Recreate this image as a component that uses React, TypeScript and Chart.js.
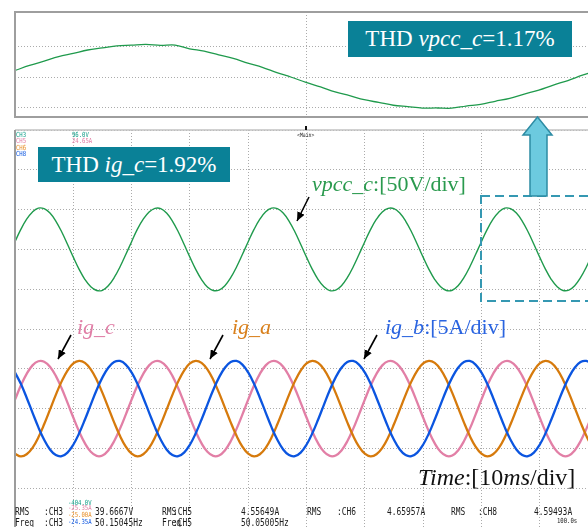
import React, { useEffect, useRef } from "react";
import { Chart, registerables } from "chart.js";
Chart.register(...registerables);

// ---------- data (main panel, 10 ms/div) ----------
const timeMs = [
  0, 1, 2, 3, 4, 5, 6, 7, 8, 9, 10, 11, 12, 13, 14, 15, 16, 17, 18, 19,
  20, 21, 22, 23, 24, 25, 26, 27, 28, 29, 30, 31, 32, 33, 34, 35, 36, 37, 38, 39,
  40, 41, 42, 43, 44, 45, 46, 47, 48, 49, 50, 51, 52, 53, 54, 55, 56, 57, 58, 59,
  60, 61, 62, 63, 64, 65, 66, 67, 68, 69, 70, 71, 72, 73, 74, 75, 76, 77, 78, 79,
  80, 81, 82, 83, 84, 85, 86, 87, 88, 89, 90, 91, 92, 93, 94, 95, 96, 97, 98, 99, 100,
];

// vpcc_c [V]
const vpccC = [
  9.7, 25.1, 37.9, 47.0, 51.9, 51.1, 45.6, 35.6, 22.1, 6.5, -9.7, -25.1, -37.9, -47.0, -51.6, -51.4, -45.6, -35.6, -22.1, -6.5,
  9.7, 25.4, 37.9, 47.0, 51.6, 51.3, 45.6, 35.6, 22.1, 6.5, -9.7, -25.1, -37.9, -47.3, -51.6, -51.1, -45.6, -35.6, -22.1, -6.5,
  9.7, 25.1, 37.9, 47.2, 51.8, 51.1, 45.6, 35.6, 22.1, 6.5, -9.7, -25.1, -37.9, -47.0, -51.7, -51.1, -45.6, -35.6, -22.1, -6.5,
  9.7, 25.1, 37.9, 47.0, 51.6, 51.2, 45.6, 35.6, 22.1, 6.5, -9.7, -25.1, -37.9, -47.0, -51.6, -51.3, -45.6, -35.6, -22.1, -6.5,
  9.7, 25.1, 37.9, 47.0, 51.9, 51.1, 45.6, 35.6, 22.1, 6.5, -9.7, -25.1, -37.9, -47.0, -51.6, -51.1, -45.6, -35.6, -22.1, -6.5,
  9.7,
];

// ig_a [A]
const igA = [
  -5.67, -6.0, -5.74, -4.93, -3.63, -1.97, -0.13, 1.73, 3.42, 4.78, 5.67, 6.0, 5.74, 4.93, 3.63, 1.97, 0.13, -1.73, -3.42, -4.78,
  -5.67, -6.0, -5.74, -4.93, -3.63, -1.97, -0.13, 1.73, 3.42, 4.78, 5.67, 6.0, 5.74, 4.93, 3.63, 1.97, 0.13, -1.73, -3.42, -4.78,
  -5.67, -6.0, -5.74, -4.93, -3.63, -1.97, -0.13, 1.73, 3.42, 4.78, 5.67, 6.0, 5.74, 4.93, 3.63, 1.97, 0.13, -1.73, -3.42, -4.78,
  -5.67, -6.0, -5.74, -4.93, -3.63, -1.97, -0.13, 1.73, 3.42, 4.78, 5.67, 6.0, 5.74, 4.93, 3.63, 1.97, 0.13, -1.73, -3.42, -4.78,
  -5.67, -6.0, -5.74, -4.93, -3.63, -1.97, -0.13, 1.73, 3.42, 4.78, 5.67, 6.0, 5.74, 4.93, 3.63, 1.97, 0.13, -1.73, -3.42, -4.78,
  -5.67,
];

// ig_b [A]
const igB = [
  4.54, 3.11, 1.37, -0.5, -2.33, -3.92, -5.13, -5.84, -5.98, -5.53, -4.54, -3.11, -1.37, 0.5, 2.33, 3.92, 5.13, 5.84, 5.98, 5.53,
  4.54, 3.11, 1.37, -0.5, -2.33, -3.92, -5.13, -5.84, -5.98, -5.53, -4.54, -3.11, -1.37, 0.5, 2.33, 3.92, 5.13, 5.84, 5.98, 5.53,
  4.54, 3.11, 1.37, -0.5, -2.33, -3.92, -5.13, -5.84, -5.98, -5.53, -4.54, -3.11, -1.37, 0.5, 2.33, 3.92, 5.13, 5.84, 5.98, 5.53,
  4.54, 3.11, 1.37, -0.5, -2.33, -3.92, -5.13, -5.84, -5.98, -5.53, -4.54, -3.11, -1.37, 0.5, 2.33, 3.92, 5.13, 5.84, 5.98, 5.53,
  4.54, 3.11, 1.37, -0.5, -2.33, -3.92, -5.13, -5.84, -5.98, -5.53, -4.54, -3.11, -1.37, 0.5, 2.33, 3.92, 5.13, 5.84, 5.98, 5.53,
  4.54,
];

// ig_c [A]
const igC = [
  1.12, 2.89, 4.37, 5.43, 5.95, 5.89, 5.26, 4.11, 2.55, 0.75, -1.12, -2.89, -4.37, -5.43, -5.95, -5.89, -5.26, -4.11, -2.55, -0.75,
  1.12, 2.89, 4.37, 5.43, 5.95, 5.89, 5.26, 4.11, 2.55, 0.75, -1.12, -2.89, -4.37, -5.43, -5.95, -5.89, -5.26, -4.11, -2.55, -0.75,
  1.12, 2.89, 4.37, 5.43, 5.95, 5.89, 5.26, 4.11, 2.55, 0.75, -1.12, -2.89, -4.37, -5.43, -5.95, -5.89, -5.26, -4.11, -2.55, -0.75,
  1.12, 2.89, 4.37, 5.43, 5.95, 5.89, 5.26, 4.11, 2.55, 0.75, -1.12, -2.89, -4.37, -5.43, -5.95, -5.89, -5.26, -4.11, -2.55, -0.75,
  1.12, 2.89, 4.37, 5.43, 5.95, 5.89, 5.26, 4.11, 2.55, 0.75, -1.12, -2.89, -4.37, -5.43, -5.95, -5.89, -5.26, -4.11, -2.55, -0.75,
  1.12,
];

// ---------- data (zoomed panel, 80..100 ms) ----------
const zoomTimeMs = [
  80, 80.5, 81, 81.5, 82, 82.5, 83, 83.5, 84, 84.5, 85, 85.5, 86, 86.5, 87, 87.5, 88, 88.5, 89, 89.5,
  90, 90.5, 91, 91.5, 92, 92.5, 93, 93.5, 94, 94.5, 95, 95.5, 96, 96.5, 97, 97.5, 98, 98.5, 99, 99.5, 100,
];
const zoomVpccC = [
  10.7, 18.9, 26.0, 33.3, 38.6, 44.3, 47.6, 51.2, 52.2, 53.4, 51.8, 52.3, 46.3, 42.4, 36.3, 30.5, 22.8, 15.8, 7.2, -0.4,
  -8.9, -16.3, -24.4, -30.6, -37.2, -41.7, -46.3, -48.6, -50.9, -50.8, -51.2, -47.6, -44.9, -39.8, -34.9, -27.9, -21.4, -13.2, -5.8, 2.9, 10.4,
];
const zoomGridV = [-50, 0, 50];
const zoomGridT = [90];

// ---------- scope read-outs ----------
const rmsChannels = [":CH3", ":CH5", ":CH6", ":CH8"];
const rmsValues = ["39.6667V", "4.55649A", "4.65957A", "4.59493A"];
const freqChannels = [":CH3", ":CH5"];
const freqValues = ["50.15045Hz", "50.05005Hz"];

const GREEN = "#1f9a4c";
const PINK = "#e27fa6";
const ORANGE = "#d67a0c";
const BLUE = "#0b55e0";
const TEAL_BOX = "#0a8197";
const GRID = "#ababab";

const SERIF = '"Liberation Serif", "Times New Roman", serif';
const MONO = '"DejaVu Sans Mono", monospace';

const mainFrame = {
  id: "mainFrame",
  afterDraw(chart: any) {
    const { ctx, chartArea: a } = chart;
    ctx.save();
    ctx.strokeStyle = "#c2c2c2";
    ctx.lineWidth = 1.5;
    ctx.beginPath();
    ctx.moveTo(a.left, a.top);
    ctx.lineTo(a.right, a.top);
    ctx.stroke();
    ctx.strokeStyle = "#9c9c9c";
    ctx.lineWidth = 2;
    ctx.beginPath();
    ctx.moveTo(a.left, a.top);
    ctx.lineTo(a.left, a.bottom);
    ctx.stroke();
    ctx.restore();
  },
};

const zoomFrame = {
  id: "zoomFrame",
  afterDraw(chart: any) {
    const { ctx, chartArea: a } = chart;
    ctx.save();
    ctx.strokeStyle = "#9e9e9e";
    ctx.lineWidth = 2;
    ctx.strokeRect(a.left, a.top, a.right - a.left, a.bottom - a.top);
    ctx.restore();
  },
};

function pts(xs: number[], ys: number[]) {
  return xs.map((x, i) => ({ x, y: ys[i] }));
}

const gridOpts = { color: GRID, lineWidth: 1, drawTicks: false };
const borderOpts = { display: false, dash: [1, 2] };

function Mono({ x, y, size, color, sx, children }: any) {
  return (
    <div
      style={{
        position: "absolute",
        left: x,
        top: y,
        fontFamily: MONO,
        fontSize: size,
        lineHeight: 1,
        color,
        whiteSpace: "nowrap",
        transform: `scaleX(${sx})`,
        transformOrigin: "left top",
      }}
    >
      {children}
    </div>
  );
}

export default function App() {
  const topRef = useRef<HTMLCanvasElement>(null);
  const mainRef = useRef<HTMLCanvasElement>(null);

  useEffect(() => {
    const top = new Chart(topRef.current as HTMLCanvasElement, {
      type: "line",
      data: {
        datasets: [
          {
            label: "vpcc_c (zoom)",
            data: pts(zoomTimeMs, zoomVpccC),
            borderColor: GREEN,
            borderWidth: 1.3,
            pointRadius: 0,
            tension: 0.35,
          },
        ],
      },
      options: {
        responsive: false,
        animation: false,
        events: [],
        layout: { padding: { left: 15, top: 12, right: 3, bottom: 8 } },
        plugins: { legend: { display: false }, tooltip: { enabled: false } },
        scales: {
          x: {
            type: "linear",
            min: 80,
            max: 100,
            ticks: { display: false },
            afterBuildTicks: (s: any) => {
              s.ticks = zoomGridT.map((v) => ({ value: v }));
            },
            grid: gridOpts,
            border: borderOpts,
          },
          y: {
            type: "linear",
            min: -65.6,
            max: 106.6,
            ticks: { display: false },
            afterBuildTicks: (s: any) => {
              s.ticks = zoomGridV.map((v) => ({ value: v }));
            },
            grid: gridOpts,
            border: borderOpts,
          },
        },
      },
      plugins: [zoomFrame],
    } as any);

    const main = new Chart(mainRef.current as HTMLCanvasElement, {
      type: "line",
      data: {
        datasets: [
          { label: "ig_b", data: pts(timeMs, igB), yAxisID: "yA", borderColor: BLUE, borderWidth: 2.3, pointRadius: 0, tension: 0.4 },
          { label: "ig_a", data: pts(timeMs, igA), yAxisID: "yA", borderColor: ORANGE, borderWidth: 2.3, pointRadius: 0, tension: 0.4 },
          { label: "ig_c", data: pts(timeMs, igC), yAxisID: "yA", borderColor: PINK, borderWidth: 2.3, pointRadius: 0, tension: 0.4 },
          { label: "vpcc_c", data: pts(timeMs, vpccC), yAxisID: "yV", borderColor: GREEN, borderWidth: 1.4, pointRadius: 0, tension: 0.4 },
        ],
      },
      options: {
        responsive: false,
        animation: false,
        events: [],
        layout: { padding: { left: 15, top: 10, right: 2, bottom: 12 } },
        plugins: { legend: { display: false }, tooltip: { enabled: false } },
        scales: {
          x: {
            type: "linear",
            min: 0,
            max: 100,
            ticks: { display: false, stepSize: 10 },
            grid: gridOpts,
            border: borderOpts,
          },
          yV: {
            type: "linear",
            position: "left",
            min: -350,
            max: 150,
            ticks: { display: false, stepSize: 50 },
            grid: gridOpts,
            border: borderOpts,
          },
          yA: {
            type: "linear",
            position: "right",
            min: -15,
            max: 35,
            display: false,
          },
        },
      },
      plugins: [mainFrame],
    } as any);

    return () => {
      top.destroy();
      main.destroy();
    };
  }, []);

  const groupX = [15, 162, 307, 451];
  const chX = [44, 173, 337, 478];
  const valX = [95, 241, 387, 534];

  return (
    <div
      style={{
        position: "fixed",
        left: 0,
        top: 0,
        width: 588,
        height: 527,
        overflow: "hidden",
        background: "#fff",
      }}
    >
      <canvas ref={topRef} width={600} height={125} style={{ position: "absolute", left: 0, top: 0 }} />
      <canvas ref={mainRef} width={600} height={420} style={{ position: "absolute", left: 0, top: 120 }} />

      {/* scope header */}
      <Mono x={16} y={131.5} size={7} color="#13a08a" sx={0.8}>CH3</Mono>
      <Mono x={16} y={138} size={7} color={PINK} sx={0.8}>CH5</Mono>
      <Mono x={16} y={144.5} size={7} color="#e8902a" sx={0.8}>CH6</Mono>
      <Mono x={16} y={151} size={7} color={BLUE} sx={0.8}>CH8</Mono>
      <Mono x={72} y={131.5} size={7} color="#13a08a" sx={0.8}>96.0V</Mono>
      <Mono x={72} y={138} size={7} color={PINK} sx={0.8}>24.65A</Mono>
      <Mono x={297} y={132} size={6} color="#222" sx={0.8}>&lt;Main&gt;</Mono>

      {/* footer */}
      {rmsChannels.map((c, i) => (
        <React.Fragment key={"r" + i}>
          <Mono x={groupX[i]} y={505.7} size={11} color="#1a1a1a" sx={0.72}>RMS</Mono>
          <Mono x={chX[i]} y={505.7} size={11} color="#1a1a1a" sx={0.72}>{c}</Mono>
          <Mono x={valX[i]} y={505.7} size={11} color="#1a1a1a" sx={0.72}>{rmsValues[i]}</Mono>
        </React.Fragment>
      ))}
      {freqChannels.map((c, i) => (
        <React.Fragment key={"f" + i}>
          <Mono x={groupX[i]} y={517.2} size={11} color="#1a1a1a" sx={0.72}>Freq</Mono>
          <Mono x={chX[i]} y={517.2} size={11} color="#1a1a1a" sx={0.72}>{c}</Mono>
          <Mono x={valX[i]} y={517.2} size={11} color="#1a1a1a" sx={0.72}>{freqValues[i]}</Mono>
        </React.Fragment>
      ))}
      <Mono x={68} y={499.6} size={7} color="#13a08a" sx={0.8}>-404.0V</Mono>
      <Mono x={68} y={505} size={7} color={PINK} sx={0.8}>-25.35A</Mono>
      <Mono x={68} y={512} size={7} color="#e8902a" sx={0.8}>-25.00A</Mono>
      <Mono x={68} y={519} size={7} color={BLUE} sx={0.8}>-24.35A</Mono>
      <Mono x={557} y={518} size={7} color="#222" sx={0.8}>100.0s</Mono>

      {/* graphics overlay */}
      <svg width={588} height={527} style={{ position: "absolute", left: 0, top: 0 }}>
        <defs>
          <marker id="ah" markerWidth="10" markerHeight="8" refX="9" refY="4" orient="auto" markerUnits="userSpaceOnUse">
            <path d="M0,0 L9,4 L0,8 z" fill="#000" />
          </marker>
        </defs>
        <rect x={305} y={126} width={2} height={4} fill="#111" />
        <rect x={481} y={196} width={130} height={105} fill="none" stroke="#3598b2" strokeWidth={2} strokeDasharray="9 5" />
        <polygon
          points="537.5,117 523,135 530,135 530,196 547,196 547,135 552,135"
          fill="#6ccadf"
          stroke="#2d8ca4"
          strokeWidth={1.5}
          strokeLinejoin="miter"
        />
        <line x1={309} y1={197} x2={297} y2={221} stroke="#000" strokeWidth={1.6} markerEnd="url(#ah)" />
        <line x1={71} y1={335} x2={58} y2={359} stroke="#000" strokeWidth={1.6} markerEnd="url(#ah)" />
        <line x1={223} y1={335} x2={210} y2={359} stroke="#000" strokeWidth={1.6} markerEnd="url(#ah)" />
        <line x1={377} y1={335} x2={364} y2={359} stroke="#000" strokeWidth={1.6} markerEnd="url(#ah)" />
      </svg>

      {/* THD boxes */}
      <div
        style={{
          position: "absolute",
          left: 348,
          top: 21,
          width: 224,
          height: 36,
          background: TEAL_BOX,
          color: "#fff",
          fontFamily: SERIF,
          fontSize: 23,
          lineHeight: "36px",
          textAlign: "center",
          whiteSpace: "nowrap",
        }}
      >
        THD <i>vpcc_c</i>=1.17%
      </div>
      <div
        style={{
          position: "absolute",
          left: 38,
          top: 147,
          width: 192,
          height: 35,
          background: TEAL_BOX,
          color: "#fff",
          fontFamily: SERIF,
          fontSize: 23,
          lineHeight: "35px",
          textAlign: "center",
          whiteSpace: "nowrap",
        }}
      >
        THD <i>ig_c</i>=1.92%
      </div>

      {/* trace labels */}
      <div style={{ position: "absolute", left: 312, top: 172.6, fontFamily: SERIF, fontSize: 22, lineHeight: 1, color: "#2a9a4e", whiteSpace: "nowrap" }}>
        <i>vpcc_c</i>:[50V/div]
      </div>
      <div style={{ position: "absolute", left: 77, top: 315.6, fontFamily: SERIF, fontSize: 22, lineHeight: 1, color: "#e07ea6", whiteSpace: "nowrap" }}>
        <i>ig_c</i>
      </div>
      <div style={{ position: "absolute", left: 232, top: 315.6, fontFamily: SERIF, fontSize: 22, lineHeight: 1, color: "#d9801c", whiteSpace: "nowrap" }}>
        <i>ig_a</i>
      </div>
      <div style={{ position: "absolute", left: 385, top: 315.6, fontFamily: SERIF, fontSize: 22, lineHeight: 1, color: "#2a64e0", whiteSpace: "nowrap" }}>
        <i>ig_b</i>:[5A/div]
      </div>
      <div style={{ position: "absolute", left: 418, top: 464.9, fontFamily: SERIF, fontSize: 24, lineHeight: 1, color: "#111", whiteSpace: "nowrap" }}>
        <i>Time</i>:[10<i>ms</i>/div]
      </div>
    </div>
  );
}
